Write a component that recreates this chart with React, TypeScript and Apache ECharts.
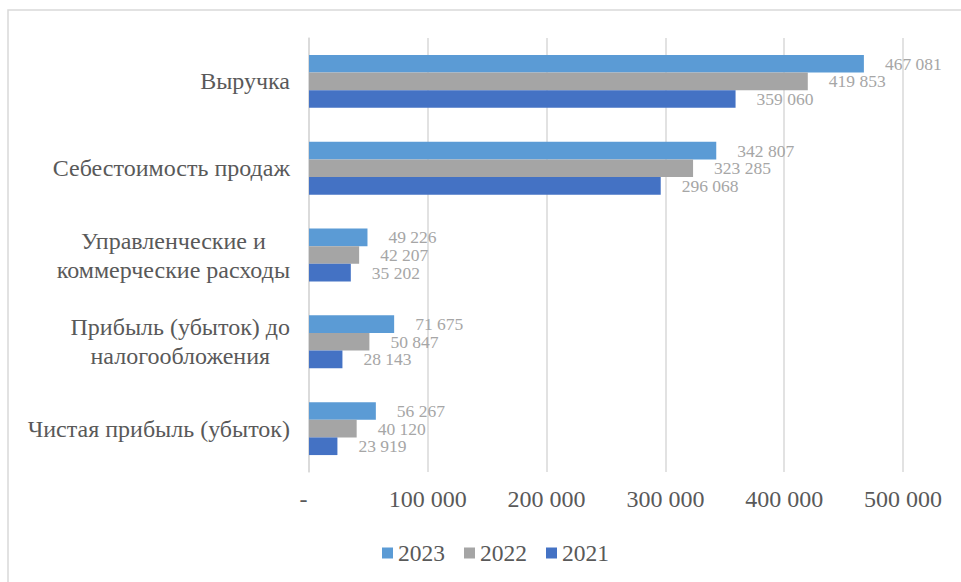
import React, { useEffect, useRef } from "react";
import * as echarts from "echarts";

const categories = [
  "Выручка",
  "Себестоимость продаж",
  "Управленческие и\nкоммерческие расходы",
  "Прибыль (убыток) до\nналогообложения",
  "Чистая прибыль (убыток)",
];
const seriesNames = ["2023", "2022", "2021"];
const values2023 = [467081, 342807, 49226, 71675, 56267];
const values2022 = [419853, 323285, 42207, 50847, 40120];
const values2021 = [359060, 296068, 35202, 28143, 23919];
const seriesColors = ["#5B9BD5", "#A5A5A5", "#4472C4"];
const xTicks = [0, 100000, 200000, 300000, 400000, 500000];

const fmt = (v: number) =>
  v === 0 ? "-" : String(Math.round(v)).replace(/\B(?=(\d{3})+(?!\d))/g, " ");

export default function App() {
  const ref = useRef<HTMLDivElement>(null);
  useEffect(() => {
    document.body.style.margin = "0";
    const chart = echarts.init(ref.current!, undefined, { renderer: "svg" });
    const font = '"Times New Roman", "Liberation Serif", Tinos, "DejaVu Serif", serif';
    const data = [values2023, values2022, values2021];
    chart.setOption({
      animation: false,
      backgroundColor: "#ffffff",
      textStyle: { fontFamily: font },
      graphic: [
        {
          type: "polyline",
          shape: { points: [[8, 582], [8, 10], [961, 10]] },
          style: { stroke: "#d9d9d9", lineWidth: 1.5, fill: "none" },
          silent: true,
        },
      ],
      grid: { left: 309, right: 58, top: 38, bottom: 110, containLabel: false },
      legend: {
        data: seriesNames,
        top: 536,
        left: 377,
        itemWidth: 11,
        itemHeight: 11,
        itemGap: 19,
        icon: "rect",
        textStyle: { fontFamily: font, fontSize: 23.5, color: "#595959" },
      },
      xAxis: {
        type: "value",
        min: xTicks[0],
        max: xTicks[xTicks.length - 1],
        interval: 100000,
        axisLine: { show: false },
        axisTick: { show: false },
        splitLine: { show: true, lineStyle: { color: "#d9d9d9", width: 1.5 } },
        axisLabel: {
          formatter: (v: number) => (v === 0 ? "{d|-}" : fmt(v)),
          fontFamily: font,
          fontSize: 24,
          color: "#595959",
          margin: 15,
          rich: {
            d: { fontFamily: font, fontSize: 24, color: "#595959", padding: [0, 11, 0, 0] },
          },
        },
      },
      yAxis: {
        type: "category",
        data: categories,
        inverse: true,
        axisLine: { show: true, lineStyle: { color: "#d9d9d9", width: 1.5 } },
        axisTick: { show: false },
        axisLabel: {
          fontFamily: font,
          fontSize: 24,
          color: "#595959",
          margin: 19,
          lineHeight: 29,
          formatter: (v: string) =>
            v
              .split("\n")
              .map((l) => "{c|" + l + "}")
              .join("\n"),
          rich: {
            c: { align: "center", fontFamily: font, fontSize: 24, color: "#595959", lineHeight: 29 },
          },
        },
      },
      series: seriesNames.map((name, i) => ({
        name,
        type: "bar",
        data: data[i],
        barGap: "0%",
        barCategoryGap: "39%",
        itemStyle: { color: seriesColors[i] },
        label: {
          show: true,
          position: "right",
          distance: 21,
          formatter: (p: any) => fmt(p.value),
          fontFamily: font,
          fontSize: 17.5,
          lineHeight: 17,
          color: "#a6a6a6",
        },
      })),
    });
    return () => chart.dispose();
  }, []);
  return <div ref={ref} style={{ width: 961, height: 582 }} />;
}
